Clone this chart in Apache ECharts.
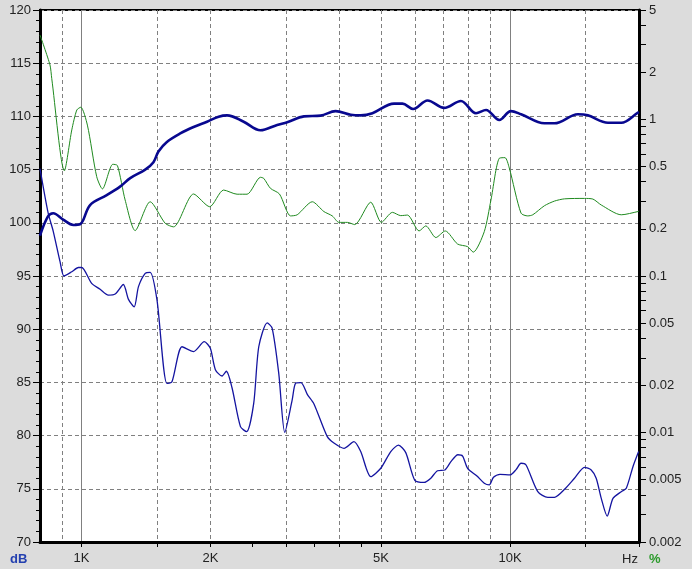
<!DOCTYPE html>
<html>
<head>
<meta charset="utf-8">
<script src="https://cdn.jsdelivr.net/npm/echarts@6/dist/echarts.min.js"></script>
<style>
html,body{margin:0;padding:0;background:#dcdcdc;}
#chart{width:692px;height:569px;}
</style>
</head>
<body>
<div id="chart"></div>
<script>
// Frequency response (thick blue, dB)
const respFreq = [800, 835, 859, 906, 957, 992, 1047, 1145, 1230, 1299, 1408, 1472, 1512, 1582, 1700, 1826, 1963, 2089, 2186, 2390, 2616, 2861, 3020, 3303, 3614, 3917, 4248, 4483, 4774, 5362, 5610, 5940, 6420, 7020, 7680, 8330, 8790, 9440, 10050, 10610, 12030, 12700, 14400, 15190, 16930, 18180, 19890, 20000];
const respDb   = [98.8, 100.6, 100.9, 100.3, 99.8, 99.86, 101.67, 102.6, 103.4, 104.2, 105.0, 105.7, 106.7, 107.6, 108.4, 109.0, 109.5, 109.97, 110.1, 109.5, 108.7, 109.2, 109.45, 110.0, 110.07, 110.5, 110.16, 110.1, 110.3, 111.2, 111.2, 110.7, 111.5, 110.8, 111.45, 110.3, 110.6, 109.66, 110.5, 110.2, 109.35, 109.35, 110.2, 110.1, 109.4, 109.4, 110.35, 110.4];

// Distortion (green, %)
const thdFreq = [800, 844, 852, 912, 949, 975, 996, 1032, 1085, 1119, 1183, 1213, 1264, 1334, 1446, 1568, 1640, 1826, 1991, 2146, 2307, 2434, 2616, 2663, 2760, 2897, 3075, 3187, 3456, 3678, 3848, 3988, 4173, 4340, 4731, 5010, 5316, 5559, 5764, 6135, 6360, 6714, 7060, 7545, 7962, 8207, 8708, 9027, 9440, 9734, 9960, 10610, 11000, 11300, 12030, 12700, 13400, 14920, 15610, 16330, 18180, 19890, 20000];
const thdPct  = [3.46, 2.23, 1.83, 0.47, 0.857, 1.149, 1.196, 0.92, 0.431, 0.36, 0.517, 0.507, 0.306, 0.195, 0.298, 0.217, 0.206, 0.334, 0.277, 0.354, 0.333, 0.333, 0.427, 0.42, 0.363, 0.334, 0.242, 0.246, 0.298, 0.258, 0.242, 0.22, 0.22, 0.213, 0.296, 0.22, 0.255, 0.243, 0.245, 0.194, 0.209, 0.176, 0.194, 0.16, 0.154, 0.142, 0.192, 0.306, 0.565, 0.57, 0.49, 0.252, 0.242, 0.246, 0.281, 0.301, 0.311, 0.313, 0.31, 0.284, 0.246, 0.258, 0.26];

// Second trace (thin blue, dB)
const harmFreq = [800, 836, 859, 891, 910, 949, 983, 1001, 1056, 1105, 1155, 1198, 1252, 1287, 1327, 1358, 1408, 1446, 1500, 1582, 1626, 1716, 1826, 1934, 1998, 2053, 2128, 2178, 2245, 2349, 2429, 2522, 2592, 2712, 2786, 2886, 2981, 3102, 3158, 3253, 3364, 3485, 3746, 3882, 4098, 4323, 4483, 4731, 4993, 5269, 5490, 5711, 5996, 6303, 6534, 6773, 7047, 7278, 7557, 7751, 7962, 8373, 8708, 8945, 9150, 9476, 10000, 10330, 10610, 10900, 11610, 12250, 12700, 13400, 14140, 14920, 15470, 15890, 16330, 16860, 17390, 18180, 18680, 19360, 19960];
const harmDb   = [105.1, 100.9, 99.2, 96.35, 95.0, 95.4, 95.8, 95.8, 94.3, 93.75, 93.2, 93.3, 94.2, 92.8, 92.1, 94.0, 95.25, 95.35, 92.75, 84.9, 85.06, 88.35, 87.9, 88.83, 88.2, 86.2, 85.6, 86.05, 84.5, 80.84, 80.37, 83.0, 88.35, 90.6, 90.08, 85.85, 80.3, 83.35, 84.9, 84.97, 83.88, 83.0, 79.9, 79.3, 78.8, 79.43, 78.5, 76.14, 76.93, 78.5, 79.1, 78.4, 75.8, 75.6, 76.0, 76.7, 76.77, 77.55, 78.2, 78.08, 76.93, 76.2, 75.52, 75.36, 76.08, 76.36, 76.3, 76.8, 77.4, 77.24, 74.73, 74.2, 74.2, 74.95, 75.99, 77.02, 76.77, 75.99, 74.1, 72.44, 74.1, 74.73, 75.05, 77.08, 78.5];

// Axis labels / ticks
const freqLabelValues = [1000, 2000, 5000, 10000];
const freqLabelText = ['1K', '2K', '5K', '10K'];
const freqTickValues = [1000, 1500, 2000, 2500, 3000, 3500, 4000, 4500, 5000, 10000, 15000, 20000];
const freqDashedGrid = [900, 1500, 2000, 3000, 4000, 5000, 6000, 7000, 8000, 9000, 15000];
const freqSolidGrid = [1000, 10000];
const pctLabelValues = [5, 2, 1, 0.5, 0.2, 0.1, 0.05, 0.02, 0.01, 0.005, 0.002];
const pctLabelText = ['5', '2', '1', '0.5', '0.2', '0.1', '0.05', '0.02', '0.01', '0.005', '0.002'];
const pctTickValues = [5, 4, 3, 2, 1, 0.9, 0.8, 0.7, 0.6, 0.5, 0.4, 0.3, 0.2, 0.1, 0.09, 0.08, 0.07, 0.06, 0.05, 0.04, 0.03, 0.02, 0.01, 0.009, 0.008, 0.007, 0.006, 0.005, 0.004, 0.003, 0.002];

const zip = (a, b) => a.map((v, i) => [v, b[i]]);
const FONT = '"Liberation Sans", Arial, sans-serif';

const chart = echarts.init(document.getElementById('chart'), null, {renderer: 'canvas'});

const baseX = {
  type: 'log', logBase: 10, min: 800, max: 20000, gridIndex: 0
};

chart.setOption({
  backgroundColor: '#dcdcdc',
  animation: false,
  grid: {
    left: 40, top: 10, right: 53, bottom: 27,
    show: true, backgroundColor: '#ffffff', borderColor: '#000', borderWidth: 2,
    outerBoundsMode: 'none', containLabel: false
  },
  xAxis: [
    Object.assign({}, baseX, {
      position: 'bottom',
      axisLine: {show: true, lineStyle: {color: '#000', width: 3}},
      axisTick: {show: true, length: 5, customValues: freqTickValues, lineStyle: {color: '#000', width: 1}},
      axisLabel: {
        show: true, margin: 10, customValues: freqLabelValues,
        color: '#222', fontSize: 13, fontFamily: FONT,
        formatter: v => { const i = freqLabelValues.findIndex(x => Math.abs(x - v) / x < 1e-6); return i >= 0 ? freqLabelText[i] : ''; }
      },
      splitLine: {show: false}, minorTick: {show: false}, minorSplitLine: {show: false}
    }),
    Object.assign({}, baseX, {
      position: 'bottom', show: true,
      axisLine: {show: false}, axisLabel: {show: false},
      axisTick: {show: false, customValues: freqDashedGrid},
      splitLine: {show: true, lineStyle: {color: '#808080', width: 1, type: [4, 3]}}
    }),
    Object.assign({}, baseX, {
      position: 'bottom', show: true,
      axisLine: {show: false}, axisLabel: {show: false},
      axisTick: {show: false, customValues: freqSolidGrid},
      splitLine: {show: true, lineStyle: {color: '#808080', width: 1, type: 'solid'}}
    })
  ],
  yAxis: [
    {
      type: 'value', min: 70, max: 120, interval: 5, position: 'left',
      axisLine: {show: true, lineStyle: {color: '#000', width: 3}},
      axisTick: {show: true, length: 7, lineStyle: {color: '#000', width: 1}},
      minorTick: {show: true, splitNumber: 5, length: 4, lineStyle: {color: '#000', width: 1}},
      axisLabel: {margin: 9, color: '#222', fontSize: 13, fontFamily: FONT},
      splitLine: {show: true, lineStyle: {color: '#808080', width: 1, type: [4, 3]}}
    },
    {
      type: 'log', logBase: 10, min: 0.002, max: 5, position: 'right',
      axisLine: {show: true, lineStyle: {color: '#000', width: 3}},
      axisTick: {show: true, length: 7, customValues: pctTickValues, lineStyle: {color: '#000', width: 1}},
      axisLabel: {
        margin: 10, color: '#222', fontSize: 13, fontFamily: FONT, customValues: pctLabelValues,
        formatter: v => { const i = pctLabelValues.findIndex(x => Math.abs(x - v) / x < 1e-6); return i >= 0 ? pctLabelText[i] : ''; }
      },
      splitLine: {show: false}, minorTick: {show: false}
    }
  ],
  series: [
    {
      name: 'Distortion', type: 'line', xAxisIndex: 0, yAxisIndex: 1,
      data: zip(thdFreq, thdPct), showSymbol: false, smooth: 0.25,
      lineStyle: {color: '#1f8a1f', width: 1}, z: 3
    },
    {
      name: 'Trace 2', type: 'line', xAxisIndex: 0, yAxisIndex: 0,
      data: zip(harmFreq, harmDb), showSymbol: false, smooth: 0.25,
      lineStyle: {color: '#1414a0', width: 1.3}, z: 4
    },
    {
      name: 'Response', type: 'line', xAxisIndex: 0, yAxisIndex: 0,
      data: zip(respFreq, respDb), showSymbol: false, smooth: 0.35,
      lineStyle: {color: '#08088f', width: 2.6}, z: 5
    }
  ],
  graphic: [
    {type: 'text', left: 10, top: 553, style: {text: 'dB', font: 'bold 13px ' + FONT, fill: '#2440b0'}},
    {type: 'text', left: 622, top: 553, style: {text: 'Hz', font: '13px ' + FONT, fill: '#222'}},
    {type: 'text', left: 649, top: 553, style: {text: '%', font: 'bold 13px ' + FONT, fill: '#2a9a2a'}}
  ]
});
</script>
</body>
</html>
